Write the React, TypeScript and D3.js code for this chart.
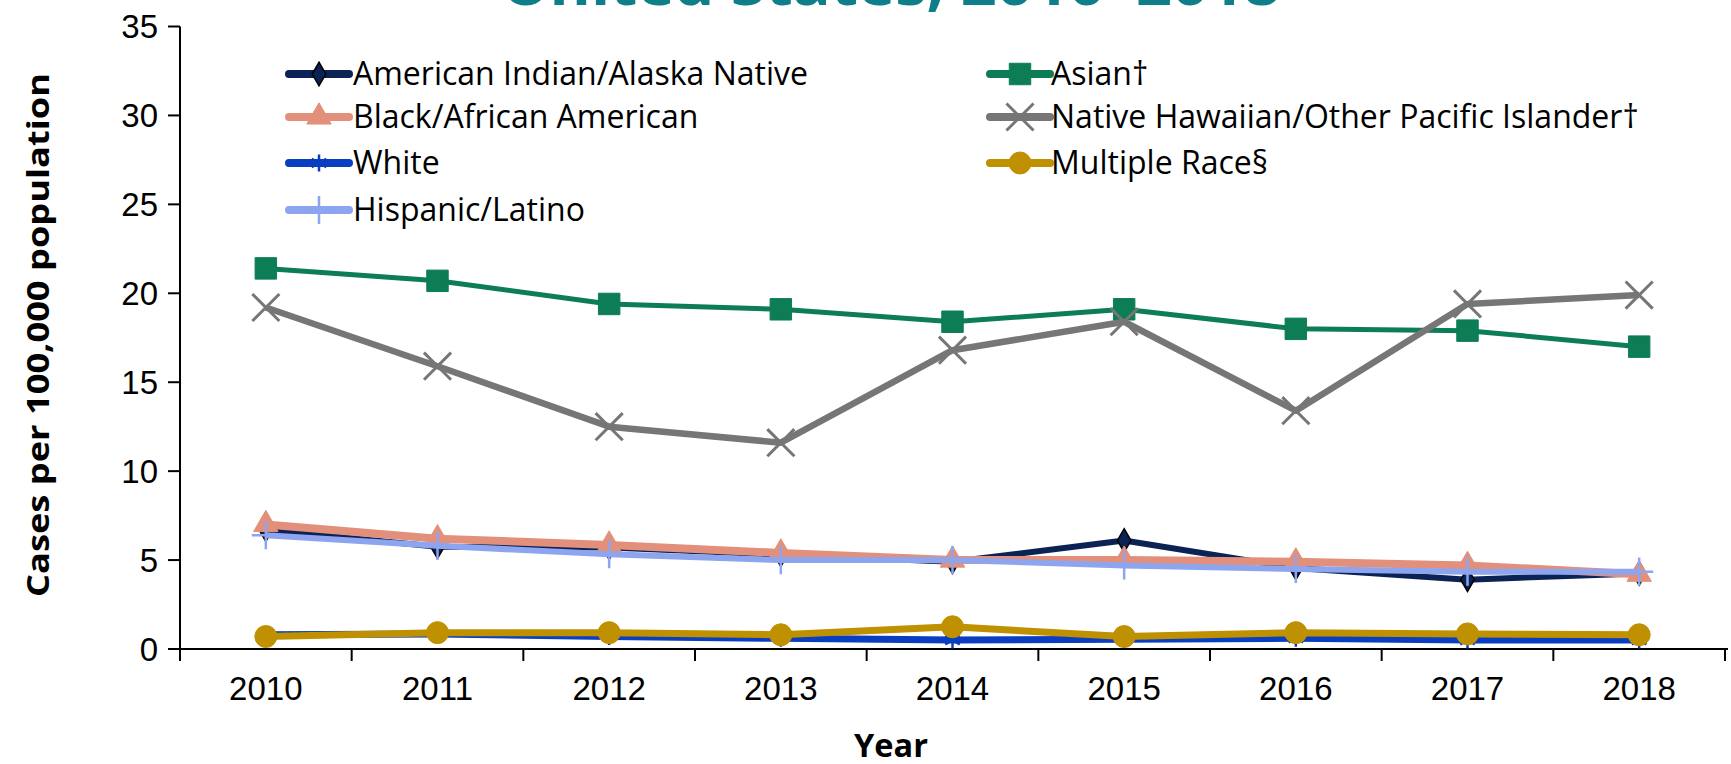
import React from "react";
import * as d3 from "d3";

const years = ["2010", "2011", "2012", "2013", "2014", "2015", "2016", "2017", "2018"];
const yTicks = [0, 5, 10, 15, 20, 25, 30, 35];

const aian = [6.7, 5.75, 5.7, 5.3, 4.9, 6.1, 4.55, 3.9, 4.25];
const asian = [21.4, 20.7, 19.4, 19.1, 18.4, 19.1, 18.0, 17.9, 17.0];
const black = [7.0, 6.2, 5.85, 5.4, 5.0, 5.0, 4.9, 4.7, 4.2];
const nhpi = [19.2, 15.9, 12.5, 11.6, 16.8, 18.4, 13.4, 19.4, 19.9];
const white = [0.8, 0.85, 0.7, 0.6, 0.5, 0.55, 0.6, 0.5, 0.5];
const multiple = [0.7, 0.92, 0.92, 0.8, 1.25, 0.7, 0.92, 0.85, 0.8];
const hispanic = [6.4, 5.8, 5.33, 5.0, 5.0, 4.7, 4.5, 4.35, 4.35];

const seriesNames = [
  "American Indian/Alaska Native",
  "Asian†",
  "Black/African American",
  "Native Hawaiian/Other Pacific Islander†",
  "White",
  "Multiple Race§",
  "Hispanic/Latino",
];

type Series = {
  name: string;
  values: number[];
  color: string;
  symbol: d3.SymbolType;
  size: number;
  fill: boolean;
  stroke: string;
  mw: number;
  lw: number;
};

const series: Series[] = [
  { name: seriesNames[0], values: aian, color: "#0B2255", symbol: d3.symbolDiamond, size: 160, fill: true, stroke: "#000", mw: 1.5, lw: 6 },
  { name: seriesNames[1], values: asian, color: "#0C7D55", symbol: d3.symbolSquare, size: 460, fill: true, stroke: "#0C7D55", mw: 1, lw: 5 },
  { name: seriesNames[2], values: black, color: "#E2907B", symbol: d3.symbolTriangle, size: 260, fill: true, stroke: "#E2907B", mw: 1, lw: 8 },
  { name: seriesNames[3], values: nhpi, color: "#767676", symbol: d3.symbolTimes, size: 480, fill: false, stroke: "#767676", mw: 3, lw: 6.5 },
  { name: seriesNames[4], values: white, color: "#0A3EC0", symbol: d3.symbolAsterisk, size: 200, fill: false, stroke: "#0A3EC0", mw: 2.5, lw: 7 },
  { name: seriesNames[5], values: multiple, color: "#BF9000", symbol: d3.symbolCircle, size: 380, fill: true, stroke: "#BF9000", mw: 1, lw: 7 },
  { name: seriesNames[6], values: hispanic, color: "#8CA5EE", symbol: d3.symbolPlus, size: 260, fill: false, stroke: "#8CA5EE", mw: 2.5, lw: 6 },
];

const W = 1731;
const H = 764;
const left = 180;
const right = 1725;
const y0 = 649;
const yTop = 26.5;

export default function App() {
  const x = d3.scaleBand<string>().domain(years).range([left, right]).padding(0);
  const y = d3.scaleLinear().domain([0, 35]).range([y0, yTop]);
  const cx = (yr: string) => (x(yr) as number) + x.bandwidth() / 2;

  const line = d3
    .line<number>()
    .x((_, i) => cx(years[i]))
    .y((v) => y(v));

  const legendPos = [
    { lx: 289, tx: 353, ty: 74 },
    { lx: 990, tx: 1051, ty: 74 },
    { lx: 289, tx: 353, ty: 117 },
    { lx: 990, tx: 1051, ty: 117 },
    { lx: 289, tx: 353, ty: 163 },
    { lx: 990, tx: 1051, ty: 163 },
    { lx: 289, tx: 353, ty: 210 },
  ];

  const marker = (s: Series) => {
    const p = d3.symbol().type(s.symbol).size(s.size)();
    return (
      <path
        d={p || ""}
        fill={s.fill ? s.color : "none"}
        stroke={s.stroke}
        strokeWidth={s.mw}
      />
    );
  };

  const tickFont = "'Liberation Sans', Arial, sans-serif";
  const legFont = "'Open Sans', 'Noto Sans', sans-serif";

  return (
    <div style={{ position: "absolute", left: 0, top: 0 }}>
      <svg width={W} height={H} style={{ display: "block", background: "#fff" }}>
        <text
          x={891}
          y={5}
          textAnchor="middle"
          fontFamily={legFont}
          fontWeight="bold"
          fontSize={58}
          fill="#0E7F8A"
          textLength={778}
          lengthAdjust="spacingAndGlyphs"
        >
          United States, 2010–2018
        </text>

        {/* axes */}
        <line x1={left} x2={left} y1={yTop} y2={y0} stroke="#000" strokeWidth={2} />
        <line x1={left - 12} x2={right + 3} y1={y0} y2={y0} stroke="#000" strokeWidth={2} />
        {yTicks.map((t) => (
          <g key={t}>
            <line x1={left - 12} x2={left} y1={y(t)} y2={y(t)} stroke="#000" strokeWidth={2} />
            <text
              x={158}
              y={y(t)}
              dy="0.36em"
              textAnchor="end"
              fontFamily={tickFont}
              fontSize={33}
              fill="#000"
            >
              {t}
            </text>
          </g>
        ))}
        {years.map((yr) => (
          <line
            key={"t" + yr}
            x1={x(yr) as number}
            x2={x(yr) as number}
            y1={y0}
            y2={y0 + 12}
            stroke="#000"
            strokeWidth={2}
          />
        ))}
        <line x1={right} x2={right} y1={y0} y2={y0 + 12} stroke="#000" strokeWidth={2} />
        {years.map((yr) => (
          <text
            key={"l" + yr}
            x={cx(yr)}
            y={700}
            textAnchor="middle"
            fontFamily={tickFont}
            fontSize={33}
            fill="#000"
          >
            {yr}
          </text>
        ))}

        <text
          x={891}
          y={757}
          textAnchor="middle"
          fontFamily={legFont}
          fontWeight="bold"
          fontSize={33}
          fill="#000"
          textLength={74}
          lengthAdjust="spacingAndGlyphs"
        >
          Year
        </text>
        <text
          transform="translate(49,335) rotate(-90)"
          textAnchor="middle"
          fontFamily={legFont}
          fontWeight="bold"
          fontSize={31}
          fill="#000"
          textLength={524}
          lengthAdjust="spacingAndGlyphs"
        >
          Cases per 100,000 population
        </text>

        {/* series */}
        {series.map((s) => (
          <g key={s.name}>
            <path
              d={line(s.values) || ""}
              fill="none"
              stroke={s.color}
              strokeWidth={s.lw}
              strokeLinejoin="round"
            />
            {s.values.map((v, i) => (
              <g key={i} transform={`translate(${cx(years[i])},${y(v)})`}>
                {marker(s)}
              </g>
            ))}
          </g>
        ))}

        {/* legend */}
        {series.map((s, i) => {
          const p = legendPos[i];
          return (
            <g key={"lg" + s.name}>
              <line
                x1={p.lx}
                x2={p.lx + 60}
                y1={p.ty}
                y2={p.ty}
                stroke={s.color}
                strokeWidth={8}
                strokeLinecap="round"
              />
              <g transform={`translate(${p.lx + 30},${p.ty})`}>{marker(s)}</g>
              <text
                x={p.tx}
                y={p.ty}
                dy="0.35em"
                fontFamily={legFont}
                fontSize={32}
                fill="#000"
              >
                {s.name}
              </text>
            </g>
          );
        })}
      </svg>
    </div>
  );
}
